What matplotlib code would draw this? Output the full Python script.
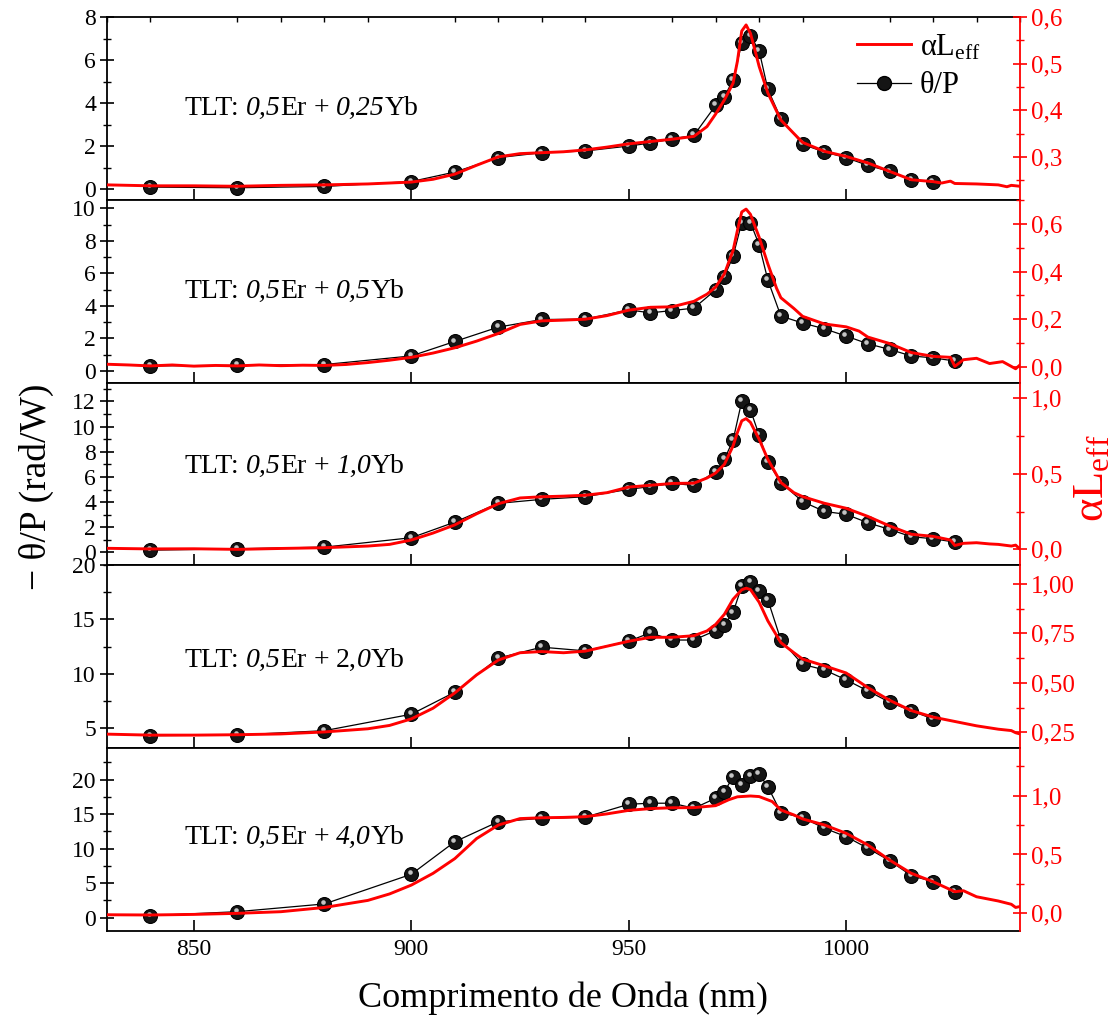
import matplotlib
matplotlib.use("Agg")
import matplotlib.pyplot as plt
from matplotlib.ticker import MultipleLocator, FuncFormatter
from matplotlib.transforms import offset_copy
from matplotlib.lines import Line2D

plt.rcParams['font.family'] = ['Liberation Serif', 'DejaVu Serif']
plt.rcParams['mathtext.fontset'] = 'custom'
plt.rcParams['mathtext.rm'] = 'Liberation Serif'
plt.rcParams['mathtext.it'] = 'Liberation Serif:italic'

# ---------------- data ----------------
wl_pts = [840, 860, 880, 900, 910, 920, 930, 940, 950, 955, 960, 965, 970, 972,
          974, 976, 978, 980, 982, 985, 990, 995, 1000, 1005, 1010, 1015, 1020]
wl_pts_ext = wl_pts + [1025]

theta1 = [0.09, 0.06, 0.12, 0.35, 0.79, 1.46, 1.69, 1.77, 2.0, 2.14, 2.33, 2.5, 3.89, 4.29,
          5.07, 6.78, 7.13, 6.43, 4.64, 3.28, 2.08, 1.72, 1.46, 1.10, 0.82, 0.43, 0.35]
theta2 = [0.31, 0.34, 0.39, 0.92, 1.81, 2.69, 3.16, 3.18, 3.75, 3.57, 3.71, 3.86, 4.98, 5.79,
          7.04, 9.12, 9.12, 7.75, 5.59, 3.37, 2.94, 2.59, 2.14, 1.67, 1.32, 0.92, 0.80, 0.61]
theta3 = [0.18, 0.29, 0.42, 1.17, 2.41, 3.9, 4.22, 4.43, 5.02, 5.23, 5.49, 5.33, 6.43, 7.4,
          8.92, 12.02, 11.33, 9.32, 7.19, 5.55, 4.04, 3.26, 3.03, 2.36, 1.83, 1.25, 1.09, 0.82]
theta4 = [4.26, 4.32, 4.72, 6.24, 8.28, 11.43, 12.44, 12.1, 13.0, 13.77, 13.1, 13.1, 13.98, 14.5,
          15.65, 18.06, 18.43, 17.6, 16.82, 13.1, 10.85, 10.34, 9.42, 8.4, 7.35, 6.55, 5.8]
theta5 = [0.29, 0.87, 1.99, 6.29, 11.0, 13.9, 14.4, 14.55, 16.43, 16.58, 16.58, 15.85, 17.3, 18.26,
          20.39, 19.23, 20.58, 20.78, 18.98, 15.22, 14.49, 12.96, 11.74, 10.06, 8.26, 6.09, 5.22, 3.77]

wl_a1 = [830, 840, 850, 860, 870, 880, 890, 900, 905, 910, 915, 920, 925, 930, 935, 940, 945, 950,
         955, 960, 965, 968, 970, 972, 974, 975, 976, 977, 978, 979, 980, 982, 985, 988, 990, 995,
         1000, 1005, 1010, 1015, 1020, 1022, 1024, 1025, 1030, 1035, 1037, 1038, 1040]
alpha1 = [0.240, 0.238, 0.238, 0.237, 0.239, 0.240, 0.242, 0.246, 0.252, 0.263, 0.282, 0.300, 0.307,
          0.309, 0.311, 0.315, 0.321, 0.328, 0.333, 0.338, 0.344, 0.365, 0.392, 0.422, 0.458, 0.505,
          0.570, 0.583, 0.565, 0.530, 0.494, 0.437, 0.379, 0.350, 0.331, 0.312, 0.301, 0.287, 0.269,
          0.251, 0.247, 0.244, 0.248, 0.243, 0.242, 0.240, 0.236, 0.239, 0.237]

wl_a2 = [830, 835, 840, 845, 850, 855, 860, 865, 870, 875, 880, 885, 890, 895, 900, 905, 910, 915,
         920, 925, 930, 935, 940, 945, 950, 955, 960, 965, 968, 970, 972, 974, 975, 976, 977, 978,
         980, 982, 984, 985, 988, 990, 995, 1000, 1003, 1005, 1010, 1015, 1020, 1024, 1025, 1027,
         1030, 1033, 1036, 1039, 1040]
alpha2 = [0.011, 0.008, 0.004, 0.008, 0.003, 0.006, 0.004, 0.008, 0.005, 0.007, 0.006, 0.010, 0.018,
          0.028, 0.040, 0.058, 0.080, 0.108, 0.140, 0.178, 0.193, 0.196, 0.200, 0.215, 0.238, 0.250,
          0.252, 0.275, 0.305, 0.335, 0.390, 0.488, 0.572, 0.650, 0.662, 0.640, 0.544, 0.432, 0.330,
          0.290, 0.245, 0.212, 0.180, 0.168, 0.150, 0.125, 0.098, 0.060, 0.044, 0.040, 0.002, 0.030,
          0.036, 0.014, 0.022, -0.008, 0.008]

wl_a3 = [830, 840, 850, 860, 870, 880, 890, 895, 900, 905, 910, 915, 920, 925, 930, 935, 940, 945,
         950, 955, 960, 965, 968, 970, 972, 974, 975, 976, 977, 978, 980, 982, 985, 988, 990, 995,
         1000, 1005, 1010, 1015, 1020, 1024, 1025, 1027, 1030, 1033, 1035, 1038, 1039, 1040]
alpha3 = [0.007, 0.003, 0.004, 0.000, 0.006, 0.011, 0.022, 0.033, 0.062, 0.108, 0.162, 0.235, 0.302,
          0.340, 0.348, 0.352, 0.358, 0.375, 0.412, 0.424, 0.436, 0.438, 0.472, 0.505, 0.562, 0.684,
          0.773, 0.850, 0.865, 0.840, 0.728, 0.596, 0.442, 0.375, 0.349, 0.305, 0.272, 0.218, 0.155,
          0.100, 0.086, 0.062, 0.026, 0.040, 0.044, 0.036, 0.033, 0.022, 0.028, 0.002]

wl_a4 = [830, 840, 850, 860, 870, 880, 890, 895, 900, 905, 910, 915, 920, 925, 930, 935, 940, 945,
         950, 955, 960, 965, 968, 970, 972, 974, 976, 977, 978, 980, 982, 985, 988, 990, 995, 1000,
         1005, 1010, 1015, 1020, 1025, 1030, 1035, 1038, 1039, 1040]
alpha4 = [0.241, 0.236, 0.236, 0.238, 0.242, 0.252, 0.268, 0.285, 0.318, 0.372, 0.449, 0.540, 0.615,
          0.652, 0.658, 0.652, 0.660, 0.685, 0.710, 0.730, 0.730, 0.738, 0.762, 0.795, 0.846, 0.922,
          0.970, 0.978, 0.971, 0.907, 0.813, 0.703, 0.652, 0.620, 0.586, 0.550, 0.476, 0.412, 0.360,
          0.327, 0.305, 0.283, 0.266, 0.259, 0.248, 0.242]

wl_a5 = [830, 840, 850, 860, 870, 880, 890, 895, 900, 905, 910, 915, 920, 925, 930, 935, 940, 945,
         950, 955, 960, 965, 970, 973, 975, 978, 980, 983, 985, 988, 990, 995, 1000, 1005, 1010,
         1015, 1020, 1025, 1027, 1030, 1035, 1038, 1039, 1040]
alpha5 = [-0.012, -0.014, -0.009, 0.000, 0.014, 0.050, 0.110, 0.165, 0.240, 0.340, 0.465, 0.635,
          0.750, 0.805, 0.812, 0.815, 0.821, 0.845, 0.875, 0.890, 0.897, 0.898, 0.915, 0.965, 0.990,
          0.997, 0.992, 0.950, 0.878, 0.836, 0.802, 0.751, 0.680, 0.581, 0.453, 0.340, 0.269, 0.184,
          0.192, 0.141, 0.105, 0.077, 0.050, 0.058]

# sample labels: (text, italic?, gap before in points)
SP = 4.8
labels = [
    [("TLT:", False, 0), ("0,5", True, SP), ("Er", False, 0), ("+", False, SP),
     ("0,25", True, SP), ("Yb", False, 0)],
    [("TLT:", False, 0), ("0,5", True, SP), ("Er", False, 0), ("+", False, SP),
     ("0,5", True, SP), ("Yb", False, 0)],
    [("TLT:", False, 0), ("0,5", True, SP), ("Er", False, 0), ("+", False, SP),
     ("1,0", True, SP), ("Yb", False, 0)],
    [("TLT:", False, 0), ("0,5", True, SP), ("Er", False, 0), ("+", False, SP),
     ("2,", False, SP), ("0", True, 0), ("Yb", False, 0)],
    [("TLT:", False, 0), ("0,5", True, SP), ("Er", False, 0), ("+", False, SP),
     ("4,0", True, SP), ("Yb", False, 0)],
]

panels = [
    dict(wl=wl_pts, th=theta1, wa=wl_a1, a=alpha1, yl=(-0.5, 8.0), ym=(2, 1),
         ry=(0.208, 0.6), rm=(0.1, 0.05), rdec=1, ty=0.50),
    dict(wl=wl_pts_ext, th=theta2, wa=wl_a2, a=alpha2, yl=(-0.72, 10.52), ym=(2, 1),
         ry=(-0.066, 0.701), rm=(0.2, 0.1), rdec=1, ty=0.50),
    dict(wl=wl_pts_ext, th=theta3, wa=wl_a3, a=alpha3, yl=(-1.03, 13.5), ym=(2, 1),
         ry=(-0.106, 1.103), rm=(0.5, 0.25), rdec=1, ty=0.54),
    dict(wl=wl_pts, th=theta4, wa=wl_a4, a=alpha4, yl=(3.1, 20.0), ym=(5, 2.5),
         ry=(0.17, 1.093), rm=(0.25, 0.125), rdec=2, ty=0.48),
    dict(wl=wl_pts_ext, th=theta5, wa=wl_a5, a=alpha5, yl=(-1.93, 24.55), ym=(5, 2.5),
         ry=(-0.15, 1.403), rm=(0.5, 0.25), rdec=1, ty=0.51),
]

W, H = 1115, 1018
fig = plt.figure(figsize=(W / 100, H / 100), dpi=100)
left, right, top, bottom = 107 / W, 1020 / W, 1 - 17 / H, 1 - 931 / H
n = len(panels)
ph = (top - bottom) / n

RED = '#ff0000'
LFS = 17
RFS = 18
BFS = 17
MS = 10


def rich_text(ax, x, y, parts, fs):
    t = None
    for s, it, gap in parts:
        style = 'italic' if it else 'normal'
        if t is None:
            t = ax.text(x, y, s, transform=ax.transAxes, fontsize=fs, style=style,
                        va='center', ha='left')
        else:
            t = ax.annotate(s, xy=(1, 0), xycoords=t, xytext=(gap, 0),
                            textcoords='offset points', fontsize=fs, style=style,
                            va='bottom', ha='left')
    return t


def fmt_factory(d):
    def f(v, pos):
        if abs(v) < 1e-9:
            v = 0.0
        return f"{v:.{d}f}".replace('.', ',')
    return f


for i, p in enumerate(panels):
    ax = fig.add_axes([left, top - (i + 1) * ph, right - left, ph])
    ax.set_xlim(830, 1040)
    ax.set_ylim(*p['yl'])
    ax.plot(p['wl'], p['th'], color='black', lw=0.9, marker='o', ms=MS,
            mfc='#151515', mec='black', mew=0.8, zorder=3)
    hl = offset_copy(ax.transData, fig=fig, x=-1.7, y=1.9, units='dots')
    ax.plot(p['wl'], p['th'], ls='none', marker='o', ms=3.3, mfc='#c4c4c4',
            mec='none', transform=hl, zorder=4)
    ax.yaxis.set_major_locator(MultipleLocator(p['ym'][0]))
    ax.yaxis.set_minor_locator(MultipleLocator(p['ym'][1]))
    ax.xaxis.set_major_locator(MultipleLocator(50))
    ax.tick_params(axis='y', which='major', direction='inout', length=10, width=1.2,
                   labelsize=LFS, right=False, pad=3)
    ax.tick_params(axis='y', which='minor', direction='inout', length=6, width=1.0, right=False)
    ax.tick_params(axis='x', which='major', direction='in', length=8, width=1.2,
                   labelsize=BFS, top=False, pad=6)
    if i == 0:
        ax.xaxis.set_minor_locator(MultipleLocator(10))
        ax.tick_params(axis='x', which='minor', direction='in', length=3.5, width=1.0,
                       top=True, bottom=False)
    if i < n - 1:
        ax.tick_params(axis='x', labelbottom=False)
    for s in ax.spines.values():
        s.set_linewidth(1.3)
    ax.spines['right'].set_visible(False)
    rich_text(ax, 0.085, p['ty'], labels[i], 20)

    tw = ax.twinx()
    tw.set_ylim(*p['ry'])
    tw.plot(p['wa'], p['a'], color=RED, lw=2.1, zorder=5)
    tw.yaxis.set_major_locator(MultipleLocator(p['rm'][0]))
    tw.yaxis.set_minor_locator(MultipleLocator(p['rm'][1]))
    tw.yaxis.set_major_formatter(FuncFormatter(fmt_factory(p['rdec'])))
    tw.tick_params(axis='y', which='major', direction='inout', length=10, width=1.2,
                   colors=RED, labelsize=RFS, pad=3)
    tw.tick_params(axis='y', which='minor', direction='inout', length=6, width=1.0, colors=RED)
    tw.spines['right'].set_color(RED)
    tw.spines['right'].set_linewidth(1.3)
    for s in ('left', 'top', 'bottom'):
        tw.spines[s].set_visible(False)

    if i == 0:
        h1 = Line2D([], [], color=RED, lw=2.1)
        h2 = Line2D([], [], color='black', lw=0.9, marker='o', ms=MS, mfc='#151515', mec='black')
        tw.legend([h1, h2], ["αL$_{\\mathrm{eff}}$", "θ/P"], loc='upper left',
                  bbox_to_anchor=(0.822, 0.915), frameon=False, fontsize=22,
                  handlelength=1.75, handletextpad=0.3, labelspacing=0.3, borderaxespad=0,
                  borderpad=0)

fig.text(563 / W, 1 - 998 / H, "Comprimento de Onda (nm)", ha='center', va='center', fontsize=26)
fig.text(36 / W, 1 - 487 / H, "− θ/P (rad/W)", ha='center', va='center', rotation=90, fontsize=27)
fig.text(1092 / W, 1 - 478 / H, "αL$_{\\mathrm{eff}}$", ha='center', va='center', rotation=90,
         fontsize=32, color=RED)

fig.savefig("out.png", dpi=100)
